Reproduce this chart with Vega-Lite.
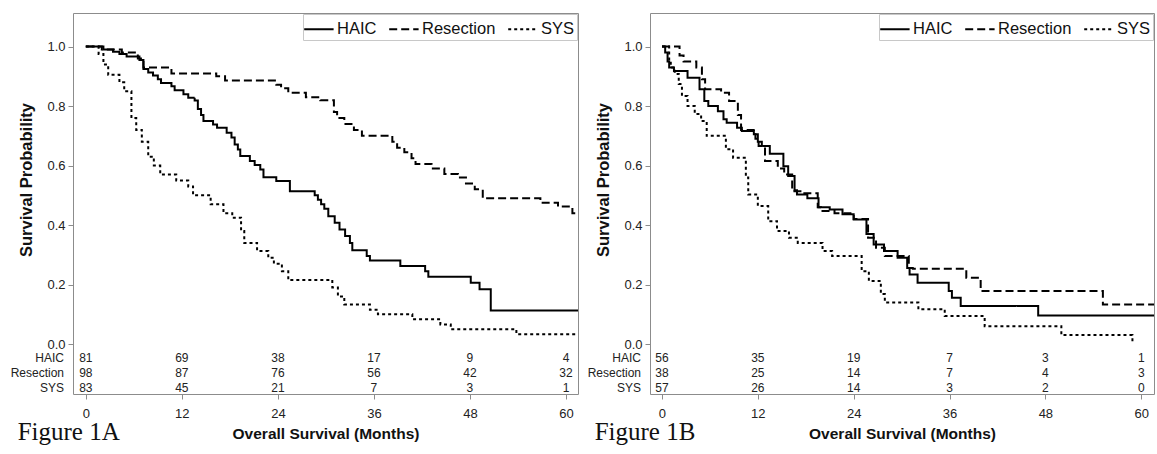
{
  "$schema": "https://vega.github.io/schema/vega-lite/v6.json",
  "background": "white",
  "padding": {"left": 10, "top": 12, "right": 3, "bottom": 4},
  "config": {
    "font": "Liberation Sans",
    "view": {"stroke": "#8c8c8c", "strokeWidth": 1},
    "axis": {"grid": false, "domain": false, "tickColor": "#8c8c8c", "tickSize": 5, "labelColor": "#222222", "labelFontSize": 13, "labelFont": "Liberation Sans", "titleFont": "Liberation Sans", "titleColor": "#111111", "titleFontWeight": "bold"},
    "legend": {"title": null, "orient": "top-right", "direction": "horizontal", "offset": 1, "padding": 2, "strokeColor": "#c8c8c8", "fillColor": "white", "labelFontSize": 16.5, "labelColor": "#111111", "labelFont": "Liberation Sans", "symbolType": "M-1.15,0H1.3", "symbolSize": 576, "symbolStrokeWidth": 2, "symbolStrokeColor": "black", "columnPadding": 8, "labelOffset": 6, "cornerRadius": 0},
    "text": {"font": "Liberation Sans"}
  },
  "datasets": {
    "kmA": [
      {"group":"HAIC","month":0,"surv":1},{"group":"HAIC","month":2.2,"surv":0.99},{"group":"HAIC","month":3.4,"surv":0.983},{"group":"HAIC","month":4.2,"surv":0.975},{"group":"HAIC","month":5.1,"surv":0.967},{"group":"HAIC","month":6.7,"surv":0.955},{"group":"HAIC","month":7.2,"surv":0.925},{"group":"HAIC","month":7.8,"surv":0.913},{"group":"HAIC","month":8.4,"surv":0.903},{"group":"HAIC","month":9.0,"surv":0.89},{"group":"HAIC","month":9.4,"surv":0.878},{"group":"HAIC","month":10.7,"surv":0.867},{"group":"HAIC","month":11.1,"surv":0.853},{"group":"HAIC","month":12.2,"surv":0.84},{"group":"HAIC","month":12.8,"surv":0.828},{"group":"HAIC","month":13.6,"surv":0.819},{"group":"HAIC","month":14.0,"surv":0.79},{"group":"HAIC","month":14.4,"surv":0.77},{"group":"HAIC","month":14.7,"surv":0.75},{"group":"HAIC","month":15.9,"surv":0.738},{"group":"HAIC","month":16.4,"surv":0.727},{"group":"HAIC","month":17.6,"surv":0.71},{"group":"HAIC","month":18.2,"surv":0.694},{"group":"HAIC","month":18.6,"surv":0.671},{"group":"HAIC","month":19.0,"surv":0.654},{"group":"HAIC","month":19.3,"surv":0.632},{"group":"HAIC","month":20.5,"surv":0.615},{"group":"HAIC","month":21.1,"surv":0.602},{"group":"HAIC","month":21.8,"surv":0.587},{"group":"HAIC","month":22.2,"surv":0.561},{"group":"HAIC","month":23.8,"surv":0.548},{"group":"HAIC","month":25.5,"surv":0.514},{"group":"HAIC","month":28.6,"surv":0.5},{"group":"HAIC","month":29.0,"surv":0.485},{"group":"HAIC","month":29.4,"surv":0.47},{"group":"HAIC","month":29.8,"surv":0.455},{"group":"HAIC","month":30.3,"surv":0.43},{"group":"HAIC","month":31.1,"surv":0.408},{"group":"HAIC","month":31.7,"surv":0.385},{"group":"HAIC","month":32.4,"surv":0.363},{"group":"HAIC","month":33.0,"surv":0.34},{"group":"HAIC","month":33.3,"surv":0.315},{"group":"HAIC","month":35.1,"surv":0.296},{"group":"HAIC","month":35.5,"surv":0.281},{"group":"HAIC","month":39.3,"surv":0.262},{"group":"HAIC","month":42.4,"surv":0.245},{"group":"HAIC","month":42.8,"surv":0.226},{"group":"HAIC","month":48.1,"surv":0.206},{"group":"HAIC","month":49.2,"surv":0.184},{"group":"HAIC","month":50.6,"surv":0.113},{"group":"HAIC","month":61.5,"surv":0.113},
      {"group":"Resection","month":0,"surv":1},{"group":"Resection","month":2.0,"surv":0.99},{"group":"Resection","month":4.5,"surv":0.98},{"group":"Resection","month":6.5,"surv":0.96},{"group":"Resection","month":7.2,"surv":0.93},{"group":"Resection","month":10.7,"surv":0.91},{"group":"Resection","month":16.3,"surv":0.9},{"group":"Resection","month":17.4,"surv":0.886},{"group":"Resection","month":23.8,"surv":0.872},{"group":"Resection","month":24.4,"surv":0.86},{"group":"Resection","month":25.3,"surv":0.845},{"group":"Resection","month":27.5,"surv":0.83},{"group":"Resection","month":29.3,"surv":0.82},{"group":"Resection","month":31.0,"surv":0.78},{"group":"Resection","month":31.4,"surv":0.76},{"group":"Resection","month":32.3,"surv":0.74},{"group":"Resection","month":33.5,"surv":0.72},{"group":"Resection","month":34.5,"surv":0.7},{"group":"Resection","month":38.3,"surv":0.68},{"group":"Resection","month":38.9,"surv":0.66},{"group":"Resection","month":39.8,"surv":0.645},{"group":"Resection","month":40.7,"surv":0.625},{"group":"Resection","month":41.2,"surv":0.605},{"group":"Resection","month":43.2,"surv":0.59},{"group":"Resection","month":44.8,"surv":0.572},{"group":"Resection","month":46.5,"surv":0.56},{"group":"Resection","month":47.5,"surv":0.54},{"group":"Resection","month":48.6,"surv":0.52},{"group":"Resection","month":49.6,"surv":0.49},{"group":"Resection","month":56.8,"surv":0.475},{"group":"Resection","month":59.0,"surv":0.462},{"group":"Resection","month":60.8,"surv":0.44},{"group":"Resection","month":61.5,"surv":0.44},
      {"group":"SYS","month":0,"surv":1},{"group":"SYS","month":1.6,"surv":0.975},{"group":"SYS","month":2.2,"surv":0.94},{"group":"SYS","month":2.8,"surv":0.905},{"group":"SYS","month":4.2,"surv":0.88},{"group":"SYS","month":4.8,"surv":0.85},{"group":"SYS","month":5.7,"surv":0.76},{"group":"SYS","month":6.3,"surv":0.72},{"group":"SYS","month":7.0,"surv":0.68},{"group":"SYS","month":7.8,"surv":0.63},{"group":"SYS","month":8.5,"surv":0.6},{"group":"SYS","month":9.3,"surv":0.57},{"group":"SYS","month":11.3,"surv":0.55},{"group":"SYS","month":12.8,"surv":0.53},{"group":"SYS","month":13.4,"surv":0.5},{"group":"SYS","month":15.6,"surv":0.47},{"group":"SYS","month":17.2,"surv":0.44},{"group":"SYS","month":18.3,"surv":0.425},{"group":"SYS","month":19.4,"surv":0.38},{"group":"SYS","month":19.8,"surv":0.34},{"group":"SYS","month":21.4,"surv":0.313},{"group":"SYS","month":22.8,"surv":0.29},{"group":"SYS","month":23.5,"surv":0.27},{"group":"SYS","month":24.5,"surv":0.245},{"group":"SYS","month":25.3,"surv":0.215},{"group":"SYS","month":30.8,"surv":0.19},{"group":"SYS","month":31.5,"surv":0.16},{"group":"SYS","month":32.3,"surv":0.133},{"group":"SYS","month":35.5,"surv":0.115},{"group":"SYS","month":36.5,"surv":0.1},{"group":"SYS","month":40.8,"surv":0.083},{"group":"SYS","month":44.3,"surv":0.066},{"group":"SYS","month":45.6,"surv":0.05},{"group":"SYS","month":53.8,"surv":0.033},{"group":"SYS","month":61.5,"surv":0.033}
    ],
    "kmB": [
      {"group":"HAIC","month":0,"surv":1},{"group":"HAIC","month":0.4,"surv":0.98},{"group":"HAIC","month":0.7,"surv":0.95},{"group":"HAIC","month":0.9,"surv":0.93},{"group":"HAIC","month":1.5,"surv":0.918},{"group":"HAIC","month":3.2,"surv":0.895},{"group":"HAIC","month":4.7,"surv":0.857},{"group":"HAIC","month":5.3,"surv":0.817},{"group":"HAIC","month":5.8,"surv":0.8},{"group":"HAIC","month":7.0,"surv":0.783},{"group":"HAIC","month":7.7,"surv":0.756},{"group":"HAIC","month":8.1,"surv":0.744},{"group":"HAIC","month":9.4,"surv":0.727},{"group":"HAIC","month":10.0,"surv":0.716},{"group":"HAIC","month":11.5,"surv":0.705},{"group":"HAIC","month":12.0,"surv":0.68},{"group":"HAIC","month":12.5,"surv":0.666},{"group":"HAIC","month":13.5,"surv":0.64},{"group":"HAIC","month":15.2,"surv":0.598},{"group":"HAIC","month":15.8,"surv":0.565},{"group":"HAIC","month":16.6,"surv":0.517},{"group":"HAIC","month":16.9,"surv":0.503},{"group":"HAIC","month":18.2,"surv":0.49},{"group":"HAIC","month":19.6,"surv":0.46},{"group":"HAIC","month":21.0,"surv":0.452},{"group":"HAIC","month":22.6,"surv":0.436},{"group":"HAIC","month":24.0,"surv":0.419},{"group":"HAIC","month":25.6,"surv":0.37},{"group":"HAIC","month":26.5,"surv":0.335},{"group":"HAIC","month":27.8,"surv":0.313},{"group":"HAIC","month":29.5,"surv":0.29},{"group":"HAIC","month":30.7,"surv":0.256},{"group":"HAIC","month":31.0,"surv":0.234},{"group":"HAIC","month":32.0,"surv":0.206},{"group":"HAIC","month":35.9,"surv":0.178},{"group":"HAIC","month":36.3,"surv":0.156},{"group":"HAIC","month":37.4,"surv":0.128},{"group":"HAIC","month":47.1,"surv":0.096},{"group":"HAIC","month":61.6,"surv":0.096},
      {"group":"Resection","month":0,"surv":1},{"group":"Resection","month":2.2,"surv":0.97},{"group":"Resection","month":2.7,"surv":0.95},{"group":"Resection","month":4.3,"surv":0.93},{"group":"Resection","month":5.0,"surv":0.89},{"group":"Resection","month":5.4,"surv":0.857},{"group":"Resection","month":7.4,"surv":0.845},{"group":"Resection","month":8.4,"surv":0.817},{"group":"Resection","month":9.5,"surv":0.77},{"group":"Resection","month":9.9,"surv":0.72},{"group":"Resection","month":11.7,"surv":0.69},{"group":"Resection","month":12.1,"surv":0.666},{"group":"Resection","month":12.9,"surv":0.615},{"group":"Resection","month":14.5,"surv":0.59},{"group":"Resection","month":15.3,"surv":0.57},{"group":"Resection","month":16.3,"surv":0.514},{"group":"Resection","month":17.5,"surv":0.507},{"group":"Resection","month":19.5,"surv":0.46},{"group":"Resection","month":19.9,"surv":0.447},{"group":"Resection","month":21.6,"surv":0.44},{"group":"Resection","month":24.0,"surv":0.42},{"group":"Resection","month":25.8,"surv":0.357},{"group":"Resection","month":26.8,"surv":0.324},{"group":"Resection","month":27.9,"surv":0.296},{"group":"Resection","month":30.9,"surv":0.256},{"group":"Resection","month":31.4,"surv":0.253},{"group":"Resection","month":38.1,"surv":0.223},{"group":"Resection","month":39.9,"surv":0.178},{"group":"Resection","month":55.2,"surv":0.133},{"group":"Resection","month":61.6,"surv":0.133},
      {"group":"SYS","month":0,"surv":1},{"group":"SYS","month":0.9,"surv":0.95},{"group":"SYS","month":1.1,"surv":0.93},{"group":"SYS","month":1.6,"surv":0.908},{"group":"SYS","month":2.1,"surv":0.874},{"group":"SYS","month":2.5,"surv":0.834},{"group":"SYS","month":3.2,"surv":0.8},{"group":"SYS","month":4.1,"surv":0.773},{"group":"SYS","month":4.9,"surv":0.75},{"group":"SYS","month":5.6,"surv":0.7},{"group":"SYS","month":8.0,"surv":0.655},{"group":"SYS","month":8.9,"surv":0.626},{"group":"SYS","month":10.5,"surv":0.56},{"group":"SYS","month":10.8,"surv":0.503},{"group":"SYS","month":12.0,"surv":0.464},{"group":"SYS","month":13.3,"surv":0.413},{"group":"SYS","month":14.4,"surv":0.38},{"group":"SYS","month":15.9,"surv":0.357},{"group":"SYS","month":17.0,"surv":0.34},{"group":"SYS","month":20.1,"surv":0.313},{"group":"SYS","month":21.3,"surv":0.296},{"group":"SYS","month":25.0,"surv":0.245},{"group":"SYS","month":25.9,"surv":0.212},{"group":"SYS","month":27.4,"surv":0.168},{"group":"SYS","month":27.9,"surv":0.14},{"group":"SYS","month":32.1,"surv":0.117},{"group":"SYS","month":35.4,"surv":0.094},{"group":"SYS","month":40.4,"surv":0.06},{"group":"SYS","month":50.0,"surv":0.03},{"group":"SYS","month":58.9,"surv":0.0}
    ],
    "riskA": [
      {"group":"HAIC","month":0,"n":81},{"group":"HAIC","month":12,"n":69},{"group":"HAIC","month":24,"n":38},{"group":"HAIC","month":36,"n":17},{"group":"HAIC","month":48,"n":9},{"group":"HAIC","month":60,"n":4},
      {"group":"Resection","month":0,"n":98},{"group":"Resection","month":12,"n":87},{"group":"Resection","month":24,"n":76},{"group":"Resection","month":36,"n":56},{"group":"Resection","month":48,"n":42},{"group":"Resection","month":60,"n":32},
      {"group":"SYS","month":0,"n":83},{"group":"SYS","month":12,"n":45},{"group":"SYS","month":24,"n":21},{"group":"SYS","month":36,"n":7},{"group":"SYS","month":48,"n":3},{"group":"SYS","month":60,"n":1}
    ],
    "riskB": [
      {"group":"HAIC","month":0,"n":56},{"group":"HAIC","month":12,"n":35},{"group":"HAIC","month":24,"n":19},{"group":"HAIC","month":36,"n":7},{"group":"HAIC","month":48,"n":3},{"group":"HAIC","month":60,"n":1},
      {"group":"Resection","month":0,"n":38},{"group":"Resection","month":12,"n":25},{"group":"Resection","month":24,"n":14},{"group":"Resection","month":36,"n":7},{"group":"Resection","month":48,"n":4},{"group":"Resection","month":60,"n":3},
      {"group":"SYS","month":0,"n":57},{"group":"SYS","month":12,"n":26},{"group":"SYS","month":24,"n":14},{"group":"SYS","month":36,"n":3},{"group":"SYS","month":48,"n":2},{"group":"SYS","month":60,"n":0}
    ]
  },
  "spacing": 72,
  "bounds": "flush",
  "hconcat": [
    {
      "width": 505,
      "height": 381,
      "title": {"text": "Figure 1A", "orient": "bottom", "anchor": "start", "frame": "bounds", "font": "Liberation Serif", "fontSize": 25, "fontWeight": "normal", "color": "#111111", "offset": -22, "dx": 7},
      "layer": [
        {
          "data": {"name": "kmA"},
          "mark": {"type": "line", "interpolate": "step-after", "strokeWidth": 2, "color": "black"},
          "encoding": {
            "x": {"field": "month", "type": "quantitative", "scale": {"domain": [-1.6, 61.5], "nice": false, "zero": false}, "axis": {"values": [0, 12, 24, 36, 48, 60], "title": "Overall Survival (Months)", "titleFontSize": 15.5, "labelPadding": 8, "titlePadding": 6}},
            "y": {"field": "surv", "type": "quantitative", "scale": {"domain": [-0.168, 1.113], "nice": false, "zero": false}, "axis": {"values": [0, 0.2, 0.4, 0.6, 0.8, 1], "format": ".1f", "title": "Survival Probability", "titleFontSize": 16.5, "titleY": 166.5, "labelPadding": 3, "titlePadding": 12}},
            "strokeDash": {"field": "group", "type": "nominal", "scale": {"domain": ["HAIC", "Resection", "SYS"], "range": [[1, 0], [8, 4], [3, 3]]}, "legend": {}}
          }
        },
        {
          "data": {"name": "riskA"},
          "mark": {"type": "text", "fontSize": 12, "color": "#222222", "baseline": "middle"},
          "encoding": {
            "x": {"field": "month", "type": "quantitative"},
            "y": {"field": "group", "type": "nominal", "scale": {"type": "point", "domain": ["HAIC", "Resection", "SYS"], "range": [345, 375], "padding": 0}, "axis": null},
            "text": {"field": "n"}
          }
        },
        {
          "data": {"name": "riskA"},
          "transform": [{"filter": "datum.month == 0"}],
          "mark": {"type": "text", "fontSize": 12, "color": "#222222", "baseline": "middle", "align": "right", "dx": -9},
          "encoding": {
            "x": {"datum": -1.6, "type": "quantitative"},
            "y": {"field": "group", "type": "nominal", "scale": {"type": "point", "domain": ["HAIC", "Resection", "SYS"], "range": [345, 375], "padding": 0}, "axis": null},
            "text": {"field": "group"}
          }
        }
      ],
      "resolve": {"scale": {"y": "independent"}}
    },
    {
      "width": 504,
      "height": 381,
      "title": {"text": "Figure 1B", "orient": "bottom", "anchor": "start", "frame": "bounds", "font": "Liberation Serif", "fontSize": 25, "fontWeight": "normal", "color": "#111111", "offset": -22, "dx": 7},
      "layer": [
        {
          "data": {"name": "kmB"},
          "mark": {"type": "line", "interpolate": "step-after", "strokeWidth": 2, "color": "black"},
          "encoding": {
            "x": {"field": "month", "type": "quantitative", "scale": {"domain": [-1.5, 61.6], "nice": false, "zero": false}, "axis": {"values": [0, 12, 24, 36, 48, 60], "title": "Overall Survival (Months)", "titleFontSize": 15.5, "labelPadding": 8, "titlePadding": 6}},
            "y": {"field": "surv", "type": "quantitative", "scale": {"domain": [-0.168, 1.113], "nice": false, "zero": false}, "axis": {"values": [0, 0.2, 0.4, 0.6, 0.8, 1], "format": ".1f", "title": "Survival Probability", "titleFontSize": 16.5, "titleY": 166.5, "labelPadding": 3, "titlePadding": 12}},
            "strokeDash": {"field": "group", "type": "nominal", "scale": {"domain": ["HAIC", "Resection", "SYS"], "range": [[1, 0], [8, 4], [3, 3]]}, "legend": {}}
          }
        },
        {
          "data": {"name": "riskB"},
          "mark": {"type": "text", "fontSize": 12, "color": "#222222", "baseline": "middle"},
          "encoding": {
            "x": {"field": "month", "type": "quantitative"},
            "y": {"field": "group", "type": "nominal", "scale": {"type": "point", "domain": ["HAIC", "Resection", "SYS"], "range": [345, 375], "padding": 0}, "axis": null},
            "text": {"field": "n"}
          }
        },
        {
          "data": {"name": "riskB"},
          "transform": [{"filter": "datum.month == 0"}],
          "mark": {"type": "text", "fontSize": 12, "color": "#222222", "baseline": "middle", "align": "right", "dx": -9},
          "encoding": {
            "x": {"datum": -1.5, "type": "quantitative"},
            "y": {"field": "group", "type": "nominal", "scale": {"type": "point", "domain": ["HAIC", "Resection", "SYS"], "range": [345, 375], "padding": 0}, "axis": null},
            "text": {"field": "group"}
          }
        }
      ],
      "resolve": {"scale": {"y": "independent"}}
    }
  ],
  "resolve": {"scale": {"x": "independent", "strokeDash": "independent"}, "legend": {"strokeDash": "independent"}}
}
